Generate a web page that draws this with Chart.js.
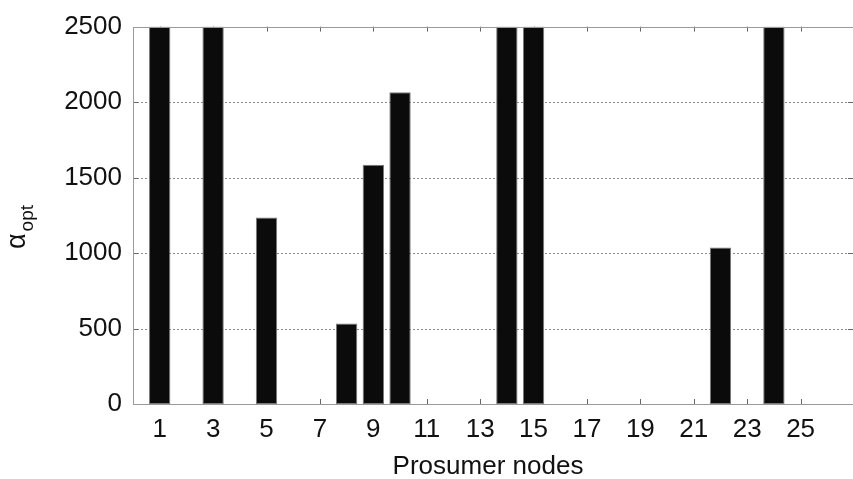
<!DOCTYPE html>
<html>
<head>
<meta charset="utf-8">
<script src="https://cdn.jsdelivr.net/npm/chart.js@4.4.1/dist/chart.umd.min.js"></script>
<style>
  html, body { margin: 0; padding: 0; background: #fff; overflow: hidden; width: 853px; height: 479px; }
  canvas { display: block; }
</style>
</head>
<body>
<canvas id="c" width="860" height="479"></canvas>
<script>
// Optimal alpha per prosumer node
const nodes = [1, 2, 3, 4, 5, 6, 7, 8, 9, 10, 11, 12, 13, 14, 15, 16, 17, 18, 19, 20, 21, 22, 23, 24, 25, 26];
const alphaOpt = [2500, 0, 2500, 0, 1235, 0, 0, 534, 1585, 2065, 0, 0, 0, 2500, 2500, 0, 0, 0, 0, 0, 0, 1036, 0, 2500, 0, 0];
const xTickLabels = [1, 3, 5, 7, 9, 11, 13, 15, 17, 19, 21, 23, 25];
const yTickLabels = [0, 500, 1000, 1500, 2000, 2500];

const FONT = "'Liberation Sans', Arial, sans-serif";

// Box, dotted grid and inward tick marks in the MATLAB style
const framePlugin = {
  id: 'frame',
  beforeDatasetsDraw(chart) {
    const { ctx, chartArea: a, scales: { x, y } } = chart;
    ctx.save();
    ctx.lineWidth = 1;
    // dotted horizontal grid
    ctx.strokeStyle = '#8a8a8a';
    ctx.setLineDash([2, 2]);
    yTickLabels.slice(1, -1).forEach(v => {
      const py = Math.round(y.getPixelForValue(v)) + 0.5;
      ctx.beginPath(); ctx.moveTo(a.left, py); ctx.lineTo(a.right, py); ctx.stroke();
    });
    ctx.setLineDash([]);
    ctx.strokeStyle = '#666';
    // y ticks, left and right
    yTickLabels.forEach(v => {
      const py = Math.round(y.getPixelForValue(v)) + 0.5;
      ctx.beginPath();
      ctx.moveTo(a.left, py); ctx.lineTo(a.left + 5, py);
      ctx.moveTo(a.right - 6, py); ctx.lineTo(a.right, py);
      ctx.stroke();
    });
    // x ticks, bottom and top
    xTickLabels.forEach(v => {
      const px = Math.round(x.getPixelForValue(v)) + 0.5;
      ctx.beginPath();
      ctx.moveTo(px, a.bottom); ctx.lineTo(px, a.bottom - 5);
      ctx.moveTo(px, a.top); ctx.lineTo(px, a.top + 5);
      ctx.stroke();
    });
    ctx.restore();
  },
  afterDatasetsDraw(chart) {
    const { ctx, chartArea: a } = chart;
    ctx.save();
    ctx.strokeStyle = '#9a9a9a';
    ctx.lineWidth = 1;
    ctx.strokeRect(Math.round(a.left) + 0.5, Math.round(a.top) + 0.5,
                   Math.round(a.right - a.left), Math.round(a.bottom - a.top));
    ctx.restore();
  },
  afterDraw(chart) {
    const { ctx } = chart;
    ctx.save();
    ctx.fillStyle = '#111';
    // x-axis title
    ctx.font = '26px ' + FONT;
    ctx.textAlign = 'center';
    ctx.textBaseline = 'alphabetic';
    ctx.fillText('Prosumer nodes', 488, 474);
    // y-axis title: alpha with subscript "opt", rotated
    ctx.translate(25, 249);
    ctx.rotate(-Math.PI / 2);
    ctx.textAlign = 'left';
    ctx.font = '27px ' + FONT;
    ctx.fillText('α', 0, 0);
    const w = ctx.measureText('α').width;
    ctx.font = '19px ' + FONT;
    ctx.fillText('opt', w + 2, 8);
    ctx.restore();
  }
};

new Chart(document.getElementById('c'), {
  type: 'bar',
  data: {
    datasets: [{
      data: nodes.map((n, i) => ({ x: n, y: alphaOpt[i] })),
      backgroundColor: '#0b0b0b',
      borderColor: '#7a7a7a',
      borderWidth: ctx => (ctx.raw && ctx.raw.y > 0 ? 1 : 0),
      borderSkipped: false,
      barPercentage: 0.8,
      categoryPercentage: 1.0
    }]
  },
  options: {
    responsive: false,
    animation: false,
    events: [],
    layout: { padding: { top: 25, right: 6, left: 0, bottom: 0 } },
    plugins: { legend: { display: false }, tooltip: { enabled: false }, title: { display: false } },
    scales: {
      x: {
        type: 'linear',
        offset: false,
        min: 0,
        max: 27,
        grid: { display: false, drawTicks: false, offset: false },
        border: { display: false },
        afterBuildTicks: s => { s.ticks = xTickLabels.map(v => ({ value: v })); },
        afterFit: s => { s.height = 75; s.paddingLeft = 0; s.paddingRight = 0; },
        ticks: {
          autoSkip: false,
          maxRotation: 0,
          padding: 10,
          color: '#111',
          font: { family: FONT, size: 26 },
          callback: v => String(v)
        }
      },
      y: {
        min: 0,
        max: 2500,
        grid: { display: false, drawTicks: false },
        border: { display: false },
        afterBuildTicks: s => { s.ticks = yTickLabels.map(v => ({ value: v })); },
        afterFit: s => { s.width = 133; },
        ticks: {
          padding: 11,
          color: '#111',
          font: { family: FONT, size: 26 },
          callback: v => String(v)
        }
      }
    }
  },
  plugins: [framePlugin]
});
</script>
</body>
</html>
